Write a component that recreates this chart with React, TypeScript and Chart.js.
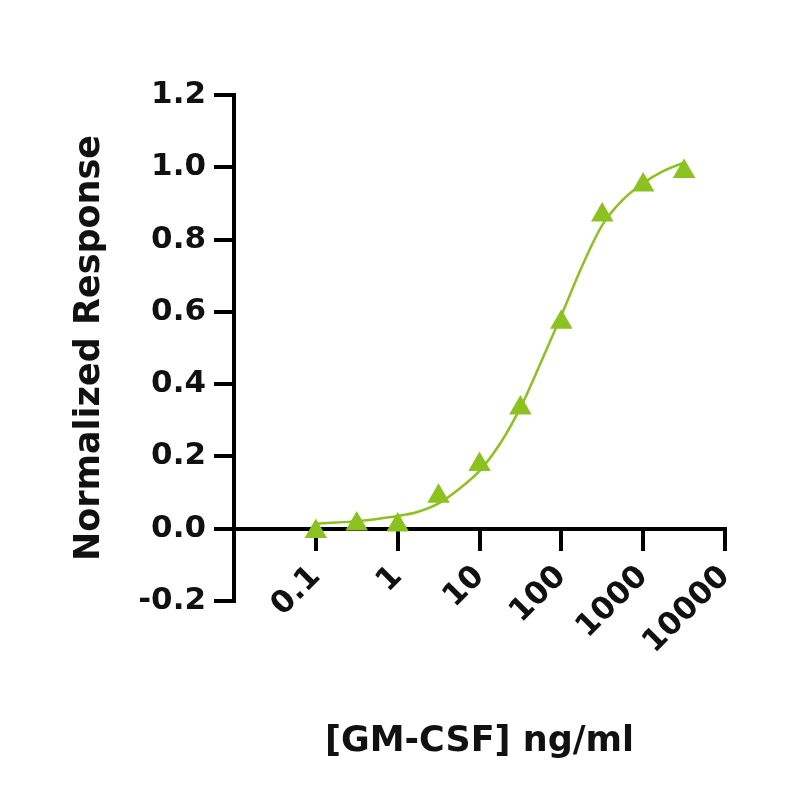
import React, { useEffect, useRef } from "react";
import { Chart, registerables } from "chart.js";

Chart.register(...registerables);

// Measured data points (concentration in ng/ml, normalized response)
const POINT_X = [0.1, 0.316, 1, 3.16, 10, 31.6, 100, 316, 1000, 3162];
const POINT_Y = [-0.008, 0.013, 0.01, 0.09, 0.178, 0.334, 0.571, 0.868, 0.951, 0.988];

// Fitted curve
const CURVE_X = [0.1, 0.178, 0.316, 0.562, 1, 1.78, 3.16, 5.62, 10, 17.8, 31.6, 56.2, 100, 178, 316, 562, 1000, 1780, 3162];
const CURVE_Y = [0.014, 0.017, 0.021, 0.027, 0.035, 0.047, 0.07, 0.11, 0.16, 0.235, 0.335, 0.46, 0.59, 0.725, 0.84, 0.91, 0.956, 0.99, 1.013];

const X_TICKS = [0.1, 1, 10, 100, 1000, 10000];
const X_TICK_LABELS = ["0.1", "1", "10", "100", "1000", "10000"];
const X_MIN = 0.01;
const X_MAX = 10000;
const Y_MIN = -0.2;
const Y_MAX = 1.2;
const Y_STEP = 0.2;

const X_TITLE = "[GM-CSF] ng/ml";
const Y_TITLE = "Normalized Response";

const GREEN = "#8CC21F";
const INK = "#111111";
const FONT = "'DejaVu Sans', sans-serif";

export default function App() {
  const ref = useRef<HTMLCanvasElement>(null);

  useEffect(() => {
    if (!ref.current) return;
    const chart = new Chart(ref.current, {
      type: "scatter",
      data: {
        datasets: [
          {
            label: "Data",
            data: POINT_X.map((x, i) => ({ x, y: POINT_Y[i] })),
            pointStyle: "triangle",
            pointRadius: 13,
            pointHoverRadius: 13,
            backgroundColor: GREEN,
            borderColor: GREEN,
            borderWidth: 0,
            showLine: false,
            clip: false,
          } as any,
          {
            label: "Fit",
            data: CURVE_X.map((x, i) => ({ x, y: CURVE_Y[i] })),
            showLine: true,
            borderColor: GREEN,
            borderWidth: 2.5,
            pointRadius: 0,
            pointHoverRadius: 0,
            cubicInterpolationMode: "monotone",
            fill: false,
            clip: false,
          } as any,
        ],
      },
      options: {
        responsive: false,
        animation: false,
        devicePixelRatio: 1,
        layout: { padding: { left: 0, right: 75, top: 95, bottom: 0 } },
        plugins: {
          legend: { display: false },
          tooltip: { enabled: false },
          title: {
            display: true,
            text: X_TITLE,
            position: "bottom",
            fullSize: false,
            color: INK,
            font: { family: FONT, size: 35, weight: "bold" },
            padding: { top: 120, bottom: 37 },
          } as any,
        },
        scales: {
          x: {
            type: "logarithmic",
            min: X_MIN,
            max: X_MAX,
            position: { y: 0 } as any,
            afterFit: (s: any) => {
              s.height = 37;
            },
            afterBuildTicks: (s: any) => {
              s.ticks = X_TICKS.map((v) => ({ value: v }));
            },
            grid: {
              display: true,
              drawOnChartArea: false,
              drawTicks: true,
              tickLength: 20,
              lineWidth: 4,
              color: "#000",
            },
            border: { display: true, color: "#000", width: 4 },
            ticks: {
              autoSkip: false,
              minRotation: 45,
              maxRotation: 45,
              padding: 10,
              color: INK,
              font: { family: FONT, size: 31, weight: "bold" },
              callback: (_v: any, i: number) => X_TICK_LABELS[i],
            },
          } as any,
          y: {
            type: "linear",
            min: Y_MIN,
            max: Y_MAX,
            afterFit: (s: any) => {
              s.width = 234;
            },
            grid: {
              display: true,
              drawOnChartArea: false,
              drawTicks: true,
              tickLength: 20,
              lineWidth: 4,
              color: "#000",
            },
            border: { display: true, color: "#000", width: 4 },
            ticks: {
              stepSize: Y_STEP,
              padding: 8,
              color: INK,
              font: { family: FONT, size: 31, weight: "bold" },
              callback: (v: any) => {
                const n = Number(v);
                return (Math.abs(n) < 1e-9 ? 0 : n).toFixed(1);
              },
            },
            title: {
              display: true,
              text: Y_TITLE,
              color: INK,
              font: { family: FONT, size: 35, weight: "bold" },
              padding: { top: 69, bottom: 0 },
            },
          } as any,
        },
      },
    });
    return () => chart.destroy();
  }, []);

  return (
    <div style={{ position: "absolute", left: 0, top: 0, width: 800, height: 800, background: "#fff" }}>
      <canvas ref={ref} width={800} height={800} />
    </div>
  );
}
